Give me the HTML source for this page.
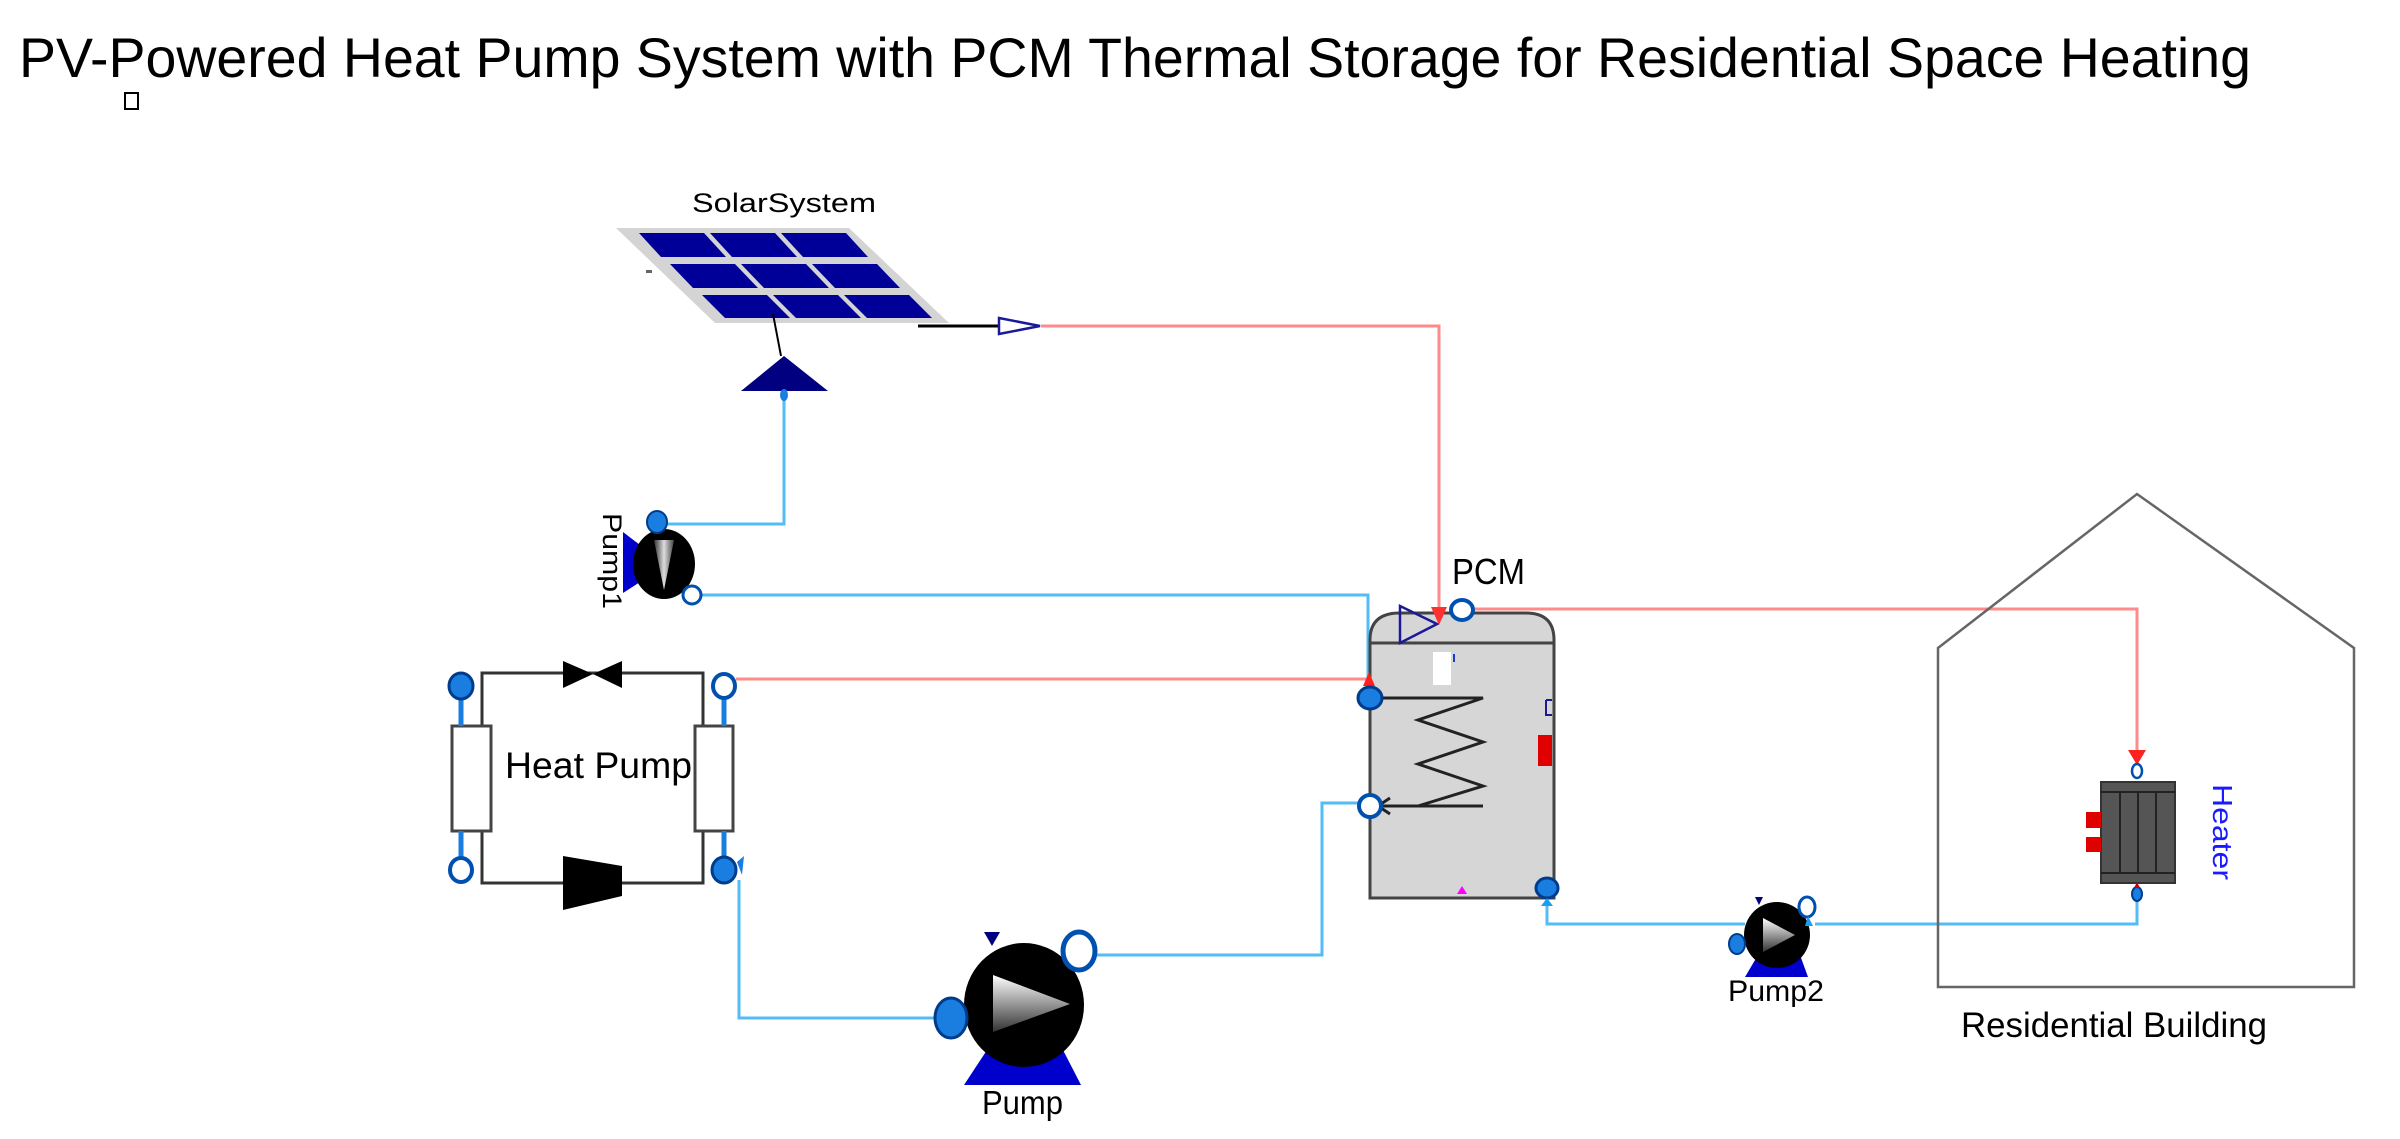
<!DOCTYPE html>
<html><head><meta charset="utf-8"><style>
html,body{margin:0;padding:0;background:#fff;}
svg{display:block;font-family:"Liberation Sans",sans-serif;}
</style></head><body>
<svg width="2400" height="1139" viewBox="0 0 2400 1139" xmlns="http://www.w3.org/2000/svg">
<defs>
<linearGradient id="g1" x1="0" y1="0" x2="0" y2="1"><stop offset="0" stop-color="#fff"/><stop offset="0.5" stop-color="#999"/><stop offset="1" stop-color="#333"/></linearGradient>
<linearGradient id="g2" x1="0" y1="0" x2="1" y2="0"><stop offset="0" stop-color="#333"/><stop offset="0.5" stop-color="#ddd"/><stop offset="1" stop-color="#444"/></linearGradient>
</defs>
<text x="19" y="77" font-size="56" textLength="2232" lengthAdjust="spacingAndGlyphs">PV-Powered Heat Pump System with PCM Thermal Storage for Residential Space Heating</text>
<rect x="125" y="93" width="13" height="16" fill="none" stroke="#000" stroke-width="2"/>

<g fill="none" stroke-width="3">
<polyline points="1041,326 1439,326 1439,608" stroke="#ff8a8a"/>
<polyline points="1474,609 2137,609 2137,752" stroke="#ff8a8a"/>
<polyline points="736,679 1369,679" stroke="#ff8a8a"/>
<polyline points="784,398 784,524 657,524" stroke="#55bbf5"/>
<polyline points="700,595 1368,595 1368,696" stroke="#55bbf5"/>
<polyline points="739,880 739,1018 936,1018" stroke="#55bbf5"/>
<polyline points="1095,955 1322,955 1322,803 1360,803" stroke="#55bbf5"/>
<polyline points="1547,900 1547,924 1745,924" stroke="#55bbf5"/>
<polyline points="1815,924 2137,924 2137,895" stroke="#55bbf5"/>
</g>

<text x="692" y="212" font-size="27" textLength="184" lengthAdjust="spacingAndGlyphs">SolarSystem</text>
<polygon points="616,228 849,228 949,323 715,323" fill="#d4d4d4"/>
<g fill="#000099">
<polygon points="639,233 704,233 726,257 661,257"/><polygon points="710,233 775,233 797,257 732,257"/><polygon points="781,233 846,233 868,257 803,257"/>
<polygon points="670,264 735,264 758,288 693,288"/><polygon points="741,264 806,264 829,288 764,288"/><polygon points="812,264 877,264 900,288 835,288"/>
<polygon points="702,295 767,295 790,318 725,318"/><polygon points="773,295 838,295 861,318 796,318"/><polygon points="844,295 909,295 932,318 867,318"/>
</g>
<rect x="646" y="270" width="6" height="3" fill="#666"/>
<line x1="773" y1="314" x2="781" y2="356" stroke="#000" stroke-width="2"/>
<polygon points="784,356 741,391 828,391" fill="#000080"/>
<ellipse cx="784" cy="395" rx="4" ry="6" fill="#1a7de0"/>
<line x1="918" y1="326" x2="998" y2="326" stroke="#000" stroke-width="3"/>
<polygon points="999,318 1040,326 999,334" fill="#fff" stroke="#1a1a99" stroke-width="2.5"/>

<text transform="translate(603,513) rotate(90)" font-size="27" textLength="96" lengthAdjust="spacingAndGlyphs">Pump1</text>
<polygon points="623,532 640,545 640,582 623,593" fill="#0000cc"/>
<ellipse cx="664" cy="564" rx="31" ry="35" fill="#000"/>
<polygon points="654,540 674,540 664,590" fill="url(#g2)"/>
<ellipse cx="657" cy="522" rx="10" ry="11" fill="#1a7de0" stroke="#003c8c" stroke-width="2"/>
<ellipse cx="692" cy="595" rx="9" ry="9" fill="#fff" stroke="#0050b0" stroke-width="3"/>

<g stroke="#333" stroke-width="3" fill="none">
<polyline points="482,726 482,673 703,673 703,726"/>
<polyline points="482,831 482,883 703,883 703,831"/>
</g>
<rect x="452" y="726" width="39" height="105" fill="#fff" stroke="#444" stroke-width="3"/>
<rect x="695" y="726" width="38" height="105" fill="#fff" stroke="#444" stroke-width="3"/>
<g stroke="#1a7de0" stroke-width="5">
<line x1="461" y1="698" x2="461" y2="726"/><line x1="461" y1="831" x2="461" y2="858"/>
<line x1="724" y1="698" x2="724" y2="726"/><line x1="724" y1="831" x2="724" y2="858"/>
</g>
<polygon points="563,661 593,674 563,688" fill="#000"/><polygon points="622,661 593,674 622,688" fill="#000"/>
<polygon points="563,856 622,866 622,896 563,910" fill="#000"/>
<text x="505" y="778" font-size="37" textLength="187" lengthAdjust="spacingAndGlyphs">Heat Pump</text>
<ellipse cx="461" cy="686" rx="12" ry="13" fill="#1a7de0" stroke="#003c8c" stroke-width="3"/>
<ellipse cx="461" cy="870" rx="11" ry="12" fill="#fff" stroke="#0050b0" stroke-width="4"/>
<ellipse cx="724" cy="686" rx="11" ry="12" fill="#fff" stroke="#0050b0" stroke-width="4"/>
<ellipse cx="724" cy="870" rx="12" ry="13" fill="#1a7de0" stroke="#003c8c" stroke-width="3"/>
<polygon points="737,862 744,856 742,875" fill="#1a7de0"/>

<polygon points="987,1050 1063,1050 1081,1085 964,1085" fill="#0000cc"/>
<polygon points="984,932 1000,932 992,946" fill="#000080"/>
<ellipse cx="1024" cy="1005" rx="60" ry="62" fill="#000"/>
<polygon points="993,975 1070,1004 993,1032" fill="url(#g1)"/>
<ellipse cx="951" cy="1018" rx="16" ry="20" fill="#1a7de0" stroke="#003c8c" stroke-width="3"/>
<ellipse cx="1079" cy="951" rx="16" ry="19" fill="#fff" stroke="#0050b0" stroke-width="5"/>
<text x="982" y="1114" font-size="33" textLength="81" lengthAdjust="spacingAndGlyphs">Pump</text>

<text x="1452" y="584" font-size="36" textLength="73" lengthAdjust="spacingAndGlyphs">PCM</text>
<path d="M1370,898 L1370,640 Q1370,613 1400,613 L1526,613 Q1554,613 1554,640 L1554,898 Z" fill="#d6d6d6" stroke="#444" stroke-width="3"/>
<line x1="1370" y1="643" x2="1554" y2="643" stroke="#444" stroke-width="3"/>
<rect x="1433" y="652" width="18" height="33" fill="#fff"/>
<line x1="1454" y1="654" x2="1454" y2="662" stroke="#1a3ad0" stroke-width="2"/>
<rect x="1538" y="735" width="14" height="31" fill="#e00000"/>
<path d="M1546,700 L1552,700 M1546,700 L1546,715 L1552,715" stroke="#1a1a99" stroke-width="2" fill="none"/>
<polyline points="1370,698 1483,698 1418,720 1483,742 1418,764 1483,786 1418,806 1483,806" fill="none" stroke="#222" stroke-width="3"/>
<line x1="1483" y1="806" x2="1372" y2="806" stroke="#222" stroke-width="3"/>
<polyline points="1390,798 1378,806 1390,814" fill="none" stroke="#222" stroke-width="3"/>
<polygon points="1457,894 1462,886 1467,894" fill="#ff00ff"/>
<polygon points="1400,606 1437,624 1400,643" fill="none" stroke="#1a1a99" stroke-width="2.5"/>
<polygon points="1431,607 1447,607 1439,625" fill="#ff3030"/>
<ellipse cx="1462" cy="610" rx="11" ry="10" fill="#fff" stroke="#0050b0" stroke-width="4"/>
<polygon points="1363,686 1369,672 1375,686" fill="#ff2020"/>
<ellipse cx="1370" cy="698" rx="12" ry="11" fill="#1a7de0" stroke="#003c8c" stroke-width="3"/>
<ellipse cx="1370" cy="806" rx="11" ry="11" fill="#fff" stroke="#0050b0" stroke-width="4"/>
<ellipse cx="1547" cy="888" rx="11" ry="10" fill="#1a7de0" stroke="#003c8c" stroke-width="3"/>
<polygon points="1541,906 1547,898 1553,906" fill="#1a9ff0"/>

<polygon points="1758,955 1800,955 1808,977 1745,977" fill="#0000cc"/>
<polygon points="1755,897 1763,897 1759,905" fill="#000080"/>
<ellipse cx="1777" cy="935" rx="33" ry="33" fill="#000"/>
<polygon points="1763,918 1795,935 1763,952" fill="url(#g1)"/>
<ellipse cx="1737" cy="944" rx="8" ry="10" fill="#1a7de0" stroke="#003c8c" stroke-width="2"/>
<ellipse cx="1807" cy="907" rx="8" ry="10" fill="#fff" stroke="#0050b0" stroke-width="3"/>
<polygon points="1805,926 1808,916 1813,926" fill="#1a9ff0"/>
<text x="1728" y="1001" font-size="30" textLength="96" lengthAdjust="spacingAndGlyphs">Pump2</text>

<polygon points="1938,648 2137,494 2354,648 2354,987 1938,987" fill="none" stroke="#666" stroke-width="2.5"/>
<text x="1961" y="1037" font-size="35" textLength="306" lengthAdjust="spacingAndGlyphs">Residential Building</text>

<polygon points="2128,750 2146,750 2137,765" fill="#ff2020"/>
<ellipse cx="2137" cy="771" rx="5" ry="7" fill="#fff" stroke="#0050b0" stroke-width="2.5"/>
<rect x="2101" y="782" width="74" height="101" fill="#555" stroke="#333" stroke-width="2"/>
<g stroke="#222" stroke-width="2">
<line x1="2101" y1="792" x2="2175" y2="792"/><line x1="2101" y1="873" x2="2175" y2="873"/>
<line x1="2120" y1="792" x2="2120" y2="873"/><line x1="2138" y1="792" x2="2138" y2="873"/><line x1="2156" y1="792" x2="2156" y2="873"/>
</g>
<rect x="2086" y="812" width="15" height="16" fill="#e00000"/>
<rect x="2086" y="837" width="15" height="15" fill="#e00000"/>
<ellipse cx="2137" cy="894" rx="5" ry="7" fill="#1a7de0" stroke="#003c8c" stroke-width="2"/>
<polygon points="2134,888 2140,888 2137,882" fill="#cc0000"/>
<text transform="translate(2213,784) rotate(90)" font-size="28" fill="#1a1aff" textLength="96" lengthAdjust="spacingAndGlyphs">Heater</text>
</svg>
</body></html>
